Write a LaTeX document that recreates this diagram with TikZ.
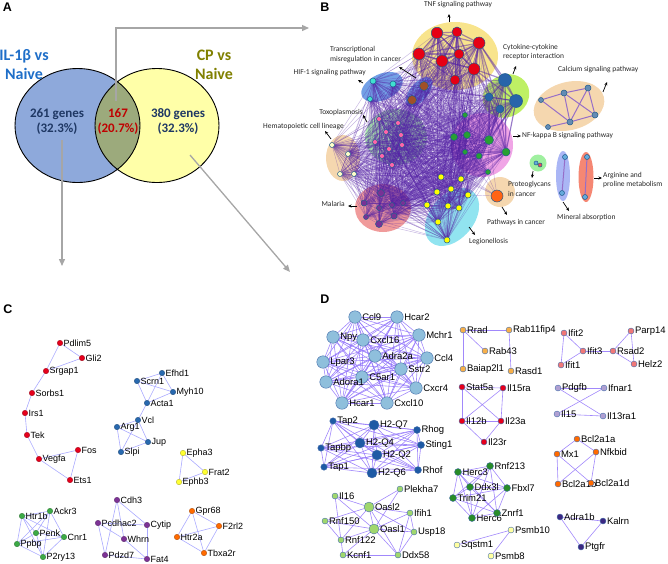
\documentclass[tikz,border=0pt]{standalone}
\usepackage{fontspec}
\setmainfont{Carlito}
\newfontfamily\arialf{Liberation Sans}
\usepackage{tikz}
\usetikzlibrary{positioning,calc,arrows.meta,backgrounds}

\definecolor{vennblue}{RGB}{142,169,219}
\definecolor{vennyellow}{RGB}{255,255,168}
\definecolor{venngreen}{RGB}{156,170,124}
\definecolor{setblue}{RGB}{30,110,200}
\definecolor{setolive}{RGB}{128,128,0}
\definecolor{navytext}{RGB}{31,56,100}
\definecolor{redtext}{RGB}{192,0,0}
\definecolor{arrowgray}{RGB}{166,166,166}
% panel B
\definecolor{netpurple}{RGB}{85,35,165}
\definecolor{bborder}{RGB}{30,90,140}
\definecolor{tnfbg}{RGB}{248,228,140}
\definecolor{cytbg}{RGB}{190,240,100}
\definecolor{calbg}{RGB}{245,215,175}
\definecolor{nfbg}{RGB}{240,165,230}
\definecolor{hifbg}{RGB}{115,160,230}
\definecolor{toxobg}{RGB}{175,240,175}
\definecolor{malbg}{RGB}{240,155,155}
\definecolor{legbg}{RGB}{145,228,240}
\definecolor{protbg}{RGB}{160,240,160}
\definecolor{minbg}{RGB}{170,182,245}
\definecolor{argbg}{RGB}{245,135,115}
\definecolor{tnfred}{RGB}{230,0,20}
\definecolor{cytblue}{RGB}{40,100,170}
\definecolor{calnode}{RGB}{100,140,180}
\definecolor{nfgreen}{RGB}{40,160,50}
\definecolor{hifcyan}{RGB}{64,224,208}
\definecolor{misbrown}{RGB}{160,80,40}
\definecolor{hemayellow}{RGB}{255,255,200}
\definecolor{toxopink}{RGB}{255,100,170}
\definecolor{malpurple}{RGB}{120,50,150}
\definecolor{legyellow}{RGB}{255,255,0}
\definecolor{pathorange}{RGB}{255,100,20}
\definecolor{minnode}{RGB}{100,170,220}
\definecolor{calcedge}{RGB}{150,110,200}
% panels C and D
\definecolor{cedgec}{RGB}{170,170,255}
\definecolor{dedgec}{RGB}{145,115,250}
\definecolor{dborder}{RGB}{70,110,170}
\definecolor{cred}{RGB}{230,0,28}
\definecolor{cblue}{RGB}{40,105,175}
\definecolor{cyellow}{RGB}{255,255,50}
\definecolor{cgreen}{RGB}{60,170,70}
\definecolor{cpurple}{RGB}{125,50,150}
\definecolor{corange}{RGB}{255,106,0}
\definecolor{dbig}{RGB}{143,191,220}
\definecolor{dlorange}{RGB}{247,176,74}
\definecolor{dsalmon}{RGB}{240,120,120}
\definecolor{dlav}{RGB}{176,160,210}
\definecolor{ddblue}{RGB}{30,90,165}
\definecolor{dlgreen}{RGB}{160,215,110}
\definecolor{ddgreen}{RGB}{40,140,40}
\definecolor{dpyellow}{RGB}{255,255,160}
\definecolor{dpurple}{RGB}{60,40,130}

\tikzset{
  panel/.style={font=\arialf\bfseries\fontsize{12.5}{14}\selectfont,inner sep=0pt},
  venntxt/.style={font=\bfseries\fontsize{13}{15}\selectfont,align=center,inner sep=0pt},
  setname/.style={font=\bfseries\fontsize{16}{19}\selectfont,align=center,inner sep=0pt},
  grayarrow/.style={draw=arrowgray,line width=1.3pt,-{Triangle[length=7pt,width=6pt]}},
  blab/.style={font=\fontsize{7.5}{9.5}\selectfont,text=black!85,inner sep=0pt,align=left},
  barrow/.style={-{Stealth[length=3.5pt,width=3pt]},line width=0.7pt},
  bnode/.style={circle,inner sep=0pt,minimum size=#1pt,draw=bborder,line width=0.5pt},
  bedge/.style={draw=netpurple,line width=0.45pt,opacity=0.33},
  tedge/.style={draw=netpurple,line width=1.2pt,opacity=0.5},
  calc edge/.style={draw=calcedge,line width=1pt},
  cnode/.style={circle,inner sep=0pt,minimum size=5.5pt,draw=#1!65!black,line width=0.3pt,fill=#1},
  clab/.style={font=\arialf\fontsize{9}{10}\selectfont,inner sep=0.6pt},
  cedge/.style={draw=cedgec,line width=0.6pt},
  dnode/.style={circle,inner sep=0pt,minimum size=6pt,draw=dborder,line width=0.4pt,fill=#1},
  dlab/.style={font=\arialf\fontsize{9.5}{11}\selectfont,inner sep=0.6pt},
  dedge/.style={draw=dedgec,line width=0.6pt,opacity=0.85},
}

\newcommand{\allpairs}[2]{%
  \foreach \pa [count=\i] in {#2} {%
    \foreach \pb [count=\j] in {#2} {%
      \ifnum\j>\i \draw[#1] (\pa) -- (\pb);\fi}}}
\newcommand{\crosspairs}[3]{%
  \foreach \pa in {#2} {\foreach \pb in {#3} {\draw[#1] (\pa) -- (\pb);}}}

\begin{document}
\begin{tikzpicture}[x=1pt,y=-1pt]
\useasboundingbox (0,0) rectangle (668,563);

%% ---------- A : Venn ----------
\node[panel] (pA) at (7.5,7.5) {A};
\fill[vennblue] (77.5,125.5) ellipse [x radius=62.5pt,y radius=57pt];
\fill[vennyellow] (157,125.5) ellipse [x radius=62pt,y radius=57pt];
\begin{scope}
  \clip (77.5,125.5) ellipse [x radius=62.5pt,y radius=57pt];
  \fill[venngreen] (157,125.5) ellipse [x radius=62pt,y radius=57pt];
\end{scope}
\draw[line width=0.9pt] (77.5,125.5) ellipse [x radius=62.5pt,y radius=57pt]
  (157,125.5) ellipse [x radius=62pt,y radius=57pt];

\node[setname,text=setblue] (il1b) at (24,64.5) {IL-1β vs\\Naive};
\node[setname,text=setolive] (cp) at (214,64.5) {CP vs\\Naive};
\node[venntxt,text=navytext] (onlyil) at (57,121.5) {261 genes\\(32.3\%)};
\node[venntxt,text=redtext] (both) at (118,121.5) {167\\(20.7\%)};
\node[venntxt,text=navytext] (onlycp) at (178,121.5) {380 genes\\(32.3\%)};

\coordinate (toB0) at (116,101);
\coordinate (toB1) at (309,28);
\coordinate (toC0) at (62,140);
\coordinate (toC1) at (62,266);
\coordinate (toD0) at (190,155);
\coordinate (toD1) at (290,272);
\draw[grayarrow] (toB0) |- (toB1);
\draw[grayarrow] (toC0) -- (toC1);
\draw[grayarrow] (toD0) -- (toD1);

%% ---------- B : pathway network ----------
\node[panel] (pB) at (325,7.5) {B};

\foreach \n/\x/\y/\d in {t1/437/33/11.5, t2/457/32/10, t3/479/43/12, t4/419/54/12,
    t5/442/61/12, t6/459/54/10, t7/474/69/12, t8/455/80/10}
  \node[bnode=\d,fill=tnfred] (\n) at (\x,\y) {};
\foreach \n/\x/\y/\d in {k1/505/80/13, k2/489/97/8, k3/516/101/13, k4/500/109/8}
  \node[bnode=\d,fill=cytblue] (\n) at (\x,\y) {};
\foreach \n/\x/\y/\d in {ca1/541/100/5, ca2/564/93/6, ca3/588/88/6, ca4/595/115/6,
    ca5/570/122/6, ca6/548/127/5}
  \node[bnode=\d,fill=calnode] (\n) at (\x,\y) {};
\foreach \n/\x/\y/\d in {n1/465/115/5, n2/454/137/7, n3/467/135/7, n4/489/140/9,
    n5/506/152/8, n6/465/152/5, n7/479/156/6, n8/488/172/5}
  \node[bnode=\d,fill=nfgreen] (\n) at (\x,\y) {};
\foreach \n/\x/\y/\d in {h1/373/81/6, h2/393/84/6, h3/370/99/5}
  \node[bnode=\d,fill=hifcyan] (\n) at (\x,\y) {};
\foreach \n/\x/\y/\d in {m1/424/86/9, m2/412/100/9}
  \node[bnode=\d,fill=misbrown] (\n) at (\x,\y) {};
\foreach \n/\x/\y in {e1/332/145, e2/348/154, e3/340/174, e4/354/174}
  \node[bnode=5,fill=hemayellow] (\n) at (\x,\y) {};
\foreach \n/\x/\y in {x1/379/119, x2/398/123, x3/386/132, x4/401/135, x5/375/142,
    x6/389/149, x7/402/145, x8/382/156, x9/392/165}
  \node[bnode=5,fill=toxopink] (\n) at (\x,\y) {};
\foreach \n/\x/\y/\d in {a1/381/193/7, a2/364/203/6, a3/379/208/5, a4/392/205/5,
    a5/403/203/5, a6/366/217/5, a7/394/216/6, a8/379/224/7}
  \node[bnode=\d,fill=malpurple] (\n) at (\x,\y) {};
\foreach \n/\x/\y in {l1/441/177, l2/461/179, l3/437/192, l4/451/189, l5/468/195,
    l6/427/205, l7/448/206, l8/459/208, l9/438/222, l10/447/240}
  \node[bnode=6,fill=legyellow] (\n) at (\x,\y) {};
\node[bnode=12,fill=pathorange] (p1) at (497,196) {};
\node[bnode=4,fill=minnode] (g1) at (536,163) {};
\node[bnode=4,fill=tnfred!70] (g2) at (540,165) {};
\foreach \n/\x/\y in {mi1/565/157, mi2/562/193, ar1/587/157, ar2/585/197}
  \node[bnode=5,fill=minnode] (\n) at (\x,\y) {};

\node[blab,anchor=center] (tnf) at (458,5) {TNF signaling pathway};
\node[blab,anchor=west] (cyto) at (503,52) {Cytokine-cytokine\\receptor interaction};
\node[blab,anchor=west] (calc) at (558,70) {Calcium signaling pathway};
\node[blab,anchor=west] (nfkb) at (522,136) {NF-kappa B signaling pathway};
\node[blab,anchor=west] (misreg) at (330,54.5) {Transcriptional\\misregulation in cancer};
\node[blab,anchor=east] (hif) at (366,73) {HIF-1 signaling pathway};
\node[blab,anchor=east] (toxo) at (363,112) {Toxoplasmosis};
\node[blab,anchor=east] (hema) at (344,127) {Hematopoietic cell lineage};
\node[blab,anchor=east] (mal) at (345,204) {Malaria};
\node[blab,anchor=west] (leg) at (469,242) {Legionellosis};
\node[blab,anchor=west] (path) at (487,222) {Pathways in cancer};
\node[blab,anchor=west] (prot) at (508,189) {Proteoglycans\\in cancer};
\node[blab,anchor=west] (mine) at (557,217) {Mineral absorption};
\node[blab,anchor=west] (argi) at (603,180) {Arginine and\\proline metabolism};

\foreach \u/\p/\q/\r/\s in {tnfa/449/22/449/14, cytoa/513/74/516/66, calca/603/92/607/82,
    nfkba/513/136/521/136, misa/416/78/399/67, hifa/363/83/358/80, toxoa/367/122/363/115,
    hemaa/331/139/325/131, mala/357/206/348/206, lega/469/227/475/235,
    patha/502/207/507/215, prota/533/171/532/178, minea/563/202/569/211,
    argia/594/178/602/178} {
  \coordinate (\u0) at (\p,\q);
  \coordinate (\u1) at (\r,\s);
  \draw[barrow] (\u0) -- (\u1);
}

\begin{scope}[on background layer]
  \fill[tnfbg] (455,56) ellipse [x radius=43pt,y radius=34pt];
  \fill[cytbg,rotate around={30:(506,96)}] (506,96) ellipse [x radius=24pt,y radius=21pt];
  \fill[calbg,rotate around={15:(569,106)}] (569,106) ellipse [x radius=36pt,y radius=24pt];
  \fill[nfbg] (482,145) ellipse [x radius=31pt,y radius=32pt];
  \fill[hifbg,rotate around={25:(382,87)}] (382,87) ellipse [x radius=22pt,y radius=13pt];
  \fill[hifbg,rotate around={50:(419,92)}] (419,92) ellipse [x radius=18pt,y radius=9pt];
  \fill[calbg] (343,158) ellipse [x radius=17pt,y radius=23pt];
  \fill[toxobg] (396,137) ellipse [x radius=31pt,y radius=28pt];
  \fill[malbg] (383,208) ellipse [x radius=28pt,y radius=24pt];
  \fill[legbg,rotate around={50:(452,217)}] (452,217) ellipse [x radius=33pt,y radius=22pt];
  \fill[calbg] (500,192) circle [radius=15pt];
  \fill[protbg] (538,163) circle [radius=8.5pt];
  \fill[minbg] (563,176) ellipse [x radius=7pt,y radius=25pt];
  \fill[argbg] (586,177) ellipse [x radius=7.5pt,y radius=25pt];
  % links
  \allpairs{bedge}{h1,h2,h3,m1,m2,e1,e2,e3,e4,x1,x2,x3,x4,x5,x6,x7,x8,x9,n1,n2,n3,n4,n5,n6,n7,n8,a1,a2,a3,a4,a5,a6,a7,a8,l1,l2,l3,l4,l5,l6,l7,l8,l9,l10}
  \crosspairs{bedge}{t1,t2,t3,t4,t5,t6,t7,t8,k1,k2,k3,k4}{h1,h2,m1,m2,e2,x1,x2,x3,x4,x6,x7,x9,n1,n2,n3,n4,n5,n6,n7,a1,a4,a5,a7,l1,l2,l3,l4,l5,l7,l8,l9,l10}
  \crosspairs{bedge}{p1}{n2,n4,n7,l2,l5,x4,x7}
  \allpairs{tedge}{t1,t2,t3,t4,t5,t6,t7,t8}
  \crosspairs{tedge}{k1,k2,k3,k4}{t3,t7,n4,n5}
  \allpairs{tedge}{k1,k2,k3,k4}
  \foreach \pa/\pb in {ca1/ca2, ca2/ca3, ca6/ca5, ca5/ca4, ca1/ca5, ca2/ca5, ca3/ca5,
      ca2/ca4, ca3/ca4, mi1/mi2, ar1/ar2}
    \draw[calc edge] (\pa) -- (\pb);
  \draw[black!50,line width=0.8pt] (g1) -- (g2);
\end{scope}

%% ---------- C : subnetworks ----------
\node[panel] (pC) at (8,309) {C};
\foreach \n/\x/\y in {Pdlim5/60/343, Gli2/82/358, Srgap1/46/371, Sorbs1/32/393,
    Irs1/25/413, Tek/27/435, Vegfa/39/459, Fos/78/450, Ets1/70/480}
  \node[cnode=cred,label={[clab]right:\n}] (\n) at (\x,\y) {};
\foreach \n/\x/\y in {Efhd1/162/373, Scrn1/137/381, Myh10/173/392, Acta1/147/403,
    Vcl/138/420, Arg1/117/427, Jup/148/442, Slpi/121/452}
  \node[cnode=cblue,label={[clab]right:\n}] (\n) at (\x,\y) {};
\foreach \n/\x/\y in {Epha3/183/453, Frat2/205/472, Ephb3/179/482}
  \node[cnode=cyellow,label={[clab]right:\n}] (\n) at (\x,\y) {};
\foreach \n/\x/\y in {Htr1b/22/516, Ackr3/50/511, Penk/36/533, Cnr1/64/537,
    Ppbp/17/544, P2ry13/43/557}
  \node[cnode=cgreen,label={[clab]right:\n}] (\n) at (\x,\y) {};
\foreach \n/\x/\y in {Cdh3/117/500, Pcdhac2/98/523, Cytip/147/525, Whrn/124/539,
    Pdzd7/105/555, Fat4/147/559}
  \node[cnode=cpurple,label={[clab]right:\n}] (\n) at (\x,\y) {};
\foreach \n/\x/\y in {Gpr68/192/511, F2rl2/219/526, Htr2a/177/537, Tbxa2r/204/553}
  \node[cnode=corange,label={[clab]right:\n}] (\n) at (\x,\y) {};

\begin{scope}[on background layer]
  \foreach \pa/\pb in {Pdlim5/Gli2, Pdlim5/Srgap1, Gli2/Srgap1, Srgap1/Sorbs1, Sorbs1/Irs1,
      Irs1/Tek, Tek/Vegfa, Vegfa/Fos, Vegfa/Ets1, Fos/Ets1,
      Scrn1/Efhd1, Efhd1/Myh10, Scrn1/Myh10, Efhd1/Acta1, Scrn1/Acta1, Myh10/Acta1,
      Acta1/Vcl, Vcl/Arg1, Vcl/Jup, Vcl/Slpi, Arg1/Jup, Arg1/Slpi, Slpi/Jup,
      Epha3/Frat2, Frat2/Ephb3, Epha3/Ephb3,
      Cdh3/Cytip, Cdh3/Pdzd7, Cdh3/Whrn, Pcdhac2/Cytip, Pcdhac2/Whrn, Pcdhac2/Pdzd7,
      Whrn/Fat4, Cytip/Fat4, Pdzd7/Fat4}
    \draw[cedge] (\pa) -- (\pb);
  \allpairs{cedge}{Htr1b,Ackr3,Penk,Cnr1,Ppbp,P2ry13}
  \allpairs{cedge}{Gpr68,F2rl2,Htr2a,Tbxa2r}
\end{scope}

%% ---------- D : subnetworks ----------
\node[panel] (pD) at (325,299) {D};
\foreach \n/\x/\y in {Ccl9/355/317, Hcar2/397/317, Npy/333/337, Cxcl16/363/340,
    Mchr1/419/335, Lpar3/323/362, Adra2a/375/356, Ccl4/427/358, Sstr2/401/369,
    C5ar1/362/377, Adora1/326/382, Cxcr4/416/388, Hcar1/342/403, Cxcl10/387/403}
  \node[dnode=dbig,minimum size=12.5pt,label={[dlab]right:\n}] (\n) at (\x,\y) {};
\foreach \n/\x/\y in {Rrad/463/330, Rab43/485/351, Baiap2l1/463/369, Rab11fip4/509/330,
    Rasd1/511/371}
  \node[dnode=dlorange,label={[dlab]right:\n}] (\n) at (\x,\y) {};
\foreach \n/\x/\y in {Stat5a/462/387, Il15ra/503/388, Il12b/462/421, Il23a/501/421,
    Il23r/484/442}
  \node[dnode=cred,label={[dlab]right:\n}] (\n) at (\x,\y) {};
\foreach \n/\x/\y in {Ifit2/564/333, Ifit3/583/351, Ifit1/561/365, Rsad2/613/351,
    Parp14/631/331, Helz2/634/364}
  \node[dnode=dsalmon,label={[dlab]right:\n}] (\n) at (\x,\y) {};
\foreach \n/\x/\y in {Pdgfb/558/388, Ifnar1/604/388, Il15/557/414, Il13ra1/603/416}
  \node[dnode=dlav,label={[dlab]right:\n}] (\n) at (\x,\y) {};
\foreach \n/\x/\y/\t/\d in {Tap2/333/421/Tap2/6.5, Tapbp/321/448/Tapbp/6.5,
    Tap1/324/467/Tap1/6.5, H2Q7/374/425/H2-Q7/10, Rhog/417/430/Rhog/7,
    H2Q4/360/443/H2-Q4/10, Sting1/421/445/Sting1/7, H2Q2/377/455/H2-Q2/10,
    H2Q6/372/473/H2-Q6/10, Rhof/418/470/Rhof/7}
  \node[dnode=ddblue,minimum size=\d pt,label={[dlab]right:\t}] (\n) at (\x,\y) {};
\foreach \n/\x/\y/\d in {Il16/335/496/6, Plekha7/400/489/6, Oasl2/369/507/10,
    Ifih1/410/513/6, Rnf150/325/521/6, Oasl1/374/529/10, Usp18/414/532/6,
    Rnf122/341/540/6, Kcnf1/343/555/6, Ddx58/398/555/6}
  \node[dnode=dlgreen,minimum size=\d pt,label={[dlab]right:\n}] (\n) at (\x,\y) {};
\foreach \n/\x/\y in {Herc3/458/472, Rnf213/490/466, Ddx3l/470/487, Fbxl7/507/488,
    Trim21/453/498, Herc6/472/518, Znrf1/497/513}
  \node[dnode=ddgreen,minimum size=7pt,label={[dlab]right:\n}] (\n) at (\x,\y) {};
\foreach \n/\x/\y in {Sqstm1/457/545, Psmb10/511/530, Psmb8/491/556}
  \node[dnode=dpyellow,label={[dlab]right:\n}] (\n) at (\x,\y) {};
\foreach \n/\x/\y in {Bcl2a1a/577/439, Mx1/557/454, Nfkbid/596/452, Bcl2a1b/558/484,
    Bcl2a1d/591/483}
  \node[dnode=corange,label={[dlab]right:\n}] (\n) at (\x,\y) {};
\foreach \n/\x/\y in {Adra1b/560/517, Kalrn/603/521, Ptgfr/581/547}
  \node[dnode=dpurple,label={[dlab]right:\n}] (\n) at (\x,\y) {};

\begin{scope}[on background layer]
  \allpairs{dedge}{Ccl9,Hcar2,Npy,Cxcl16,Mchr1,Lpar3,Adra2a,Ccl4,Sstr2,C5ar1,Adora1,Cxcr4,Hcar1,Cxcl10}
  \allpairs{dedge}{Tap2,Tapbp,Tap1,H2Q7,Rhog,H2Q4,Sting1,H2Q2,H2Q6,Rhof}
  \allpairs{dedge}{Herc3,Rnf213,Ddx3l,Fbxl7,Trim21,Herc6,Znrf1}
  \foreach \pa/\pb in {Rrad/Rab11fip4, Rrad/Rab43, Rrad/Baiap2l1, Rab11fip4/Rasd1,
      Stat5a/Il15ra, Stat5a/Il12b, Stat5a/Il23a, Il15ra/Il23a, Il15ra/Il12b,
      Il12b/Il23a, Il12b/Il23r, Il23a/Il23r,
      Ifit2/Ifit3, Ifit2/Ifit1, Ifit1/Ifit3, Ifit3/Rsad2, Rsad2/Parp14, Rsad2/Helz2,
      Parp14/Helz2,
      Pdgfb/Ifnar1, Pdgfb/Il13ra1, Ifnar1/Il15, Il15/Il13ra1,
      Il16/Oasl2, Il16/Oasl1, Il16/Rnf122, Plekha7/Oasl2, Plekha7/Oasl1, Oasl2/Oasl1,
      Oasl2/Ifih1, Oasl2/Usp18, Oasl2/Rnf150, Oasl2/Rnf122, Oasl2/Ddx58, Oasl1/Ifih1,
      Oasl1/Usp18, Oasl1/Ddx58, Oasl1/Rnf150, Oasl1/Rnf122, Oasl1/Kcnf1, Ifih1/Usp18,
      Ifih1/Ddx58, Usp18/Ddx58, Rnf150/Rnf122, Rnf122/Kcnf1, Kcnf1/Ddx58,
      Sqstm1/Psmb10, Psmb10/Psmb8,
      Bcl2a1a/Mx1, Bcl2a1a/Nfkbid, Mx1/Bcl2a1b, Mx1/Bcl2a1d, Nfkbid/Bcl2a1b,
      Nfkbid/Bcl2a1d,
      Adra1b/Kalrn, Adra1b/Ptgfr, Kalrn/Ptgfr}
    \draw[dedge] (\pa) -- (\pb);
\end{scope}
\end{tikzpicture}
\end{document}
